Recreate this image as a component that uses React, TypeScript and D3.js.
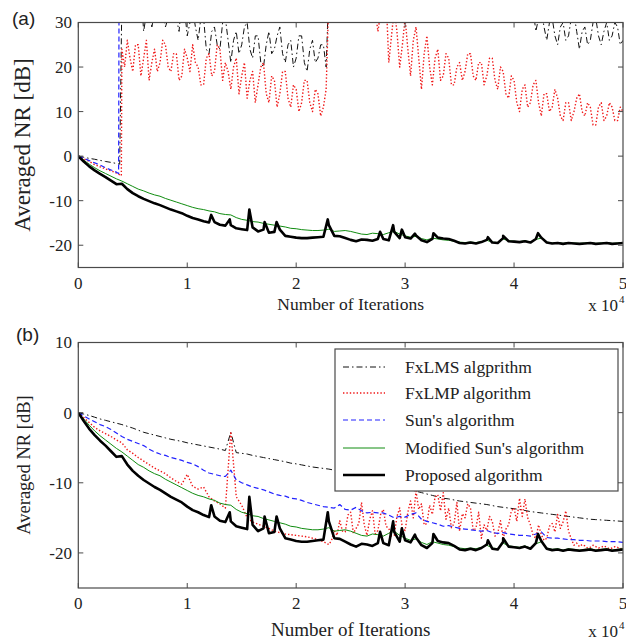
import React from "react";
import * as d3 from "d3";

// ---------- DATA ----------
const iterations = d3.range(0, 50001, 500); // 101 samples
const lateIterations = d3.range(4000, 50001, 250); // 185 samples (panel a, after divergence)
const bEarlyIterations = d3.range(0, 22501, 500); // 46 samples
const bLateIterations = d3.range(23000, 50001, 250); // 109 samples
const xTickValues = [0, 1, 2, 3, 4, 5];
const topYTicks = [-20, -10, 0, 10, 20, 30];
const bottomYTicks = [-20, -10, 0, 10];
const legendLabels = [
  "FxLMS algprithm",
  "FxLMP algorithm",
  "Sun's algorithm",
  "Modified Sun's algorithm",
  "Proposed algorithm",
];

// Proposed algorithm (same in both panels)
const proposed = [
  0, -1.2, -2.3, -3.2, -4.0, -4.7, -5.5, -6.3, -6.2, -7.4,
  -8.3, -9.0, -9.6, -10.1, -10.6, -11.0, -11.5, -12.0, -12.4, -12.8,
  -13.4, -13.9, -14.2, -14.6, -14.9, -14.8, -15.4, -15.6, -15.5, -16.2,
  -16.4, -16.6, -16.0, -16.9, -16.5, -17.2, -17.0, -16.5, -17.9, -18.1,
  -18.3, -18.4, -18.4, -18.3, -18.2, -18.1, -15.5, -17.9, -18.0, -18.4,
  -18.8, -19.1, -18.7, -18.8, -19.0, -18.6, -18.6, -18.9, -17.0, -18.4,
  -18.2, -18.5, -17.8, -18.9, -19.3, -18.6, -18.3, -18.5, -18.6, -19.0,
  -19.5, -19.6, -19.4, -19.6, -19.3, -18.8, -19.4, -19.5, -18.4, -19.1,
  -19.2, -19.3, -19.1, -19.4, -18.6, -18.3, -19.4, -19.6, -19.5, -19.7,
  -19.5, -19.6, -19.7, -19.6, -19.5, -19.7, -19.6, -19.5, -19.7, -19.6,
  -19.5,
];
const proposedPeaks: [number, number][] = [
  [12200, -13.2], [13900, -14.2], [15700, -12.0], [17100, -14.8],
  [18200, -14.8], [22900, -14.2], [27700, -17.0], [28900, -15.5],
  [29700, -16.5], [30900, -17.4], [32600, -17.3], [37600, -18.2],
  [39000, -17.9], [42200, -17.3],
];

// Modified Sun's algorithm (same in both panels)
const modifiedSun = [
  0, -0.9, -1.8, -2.6, -3.3, -3.9, -4.5, -5.1, -5.6, -6.2,
  -6.8, -7.4, -7.8, -8.3, -8.7, -9.0, -9.5, -9.9, -10.3, -10.7,
  -11.1, -11.5, -11.8, -12.0, -12.3, -12.5, -12.9, -13.1, -13.2, -13.8,
  -14.2, -14.4, -14.7, -14.8, -15.1, -15.3, -15.5, -15.7, -15.9, -16.2,
  -16.3, -16.5, -16.6, -16.7, -16.7, -16.6, -16.4, -16.9, -16.8, -16.7,
  -16.9, -17.2, -17.5, -17.6, -17.3, -17.4, -17.6, -17.2, -16.9, -17.5,
  -17.9, -18.2, -18.0, -18.5, -18.8, -18.4, -18.6, -18.8, -18.9, -19.1,
  -19.3, -19.4, -19.3, -19.4, -19.2, -18.9, -19.3, -19.4, -18.6, -19.0,
  -19.1, -19.2, -19.0, -19.3, -18.7, -18.4, -19.3, -19.5, -19.4, -19.6,
  -19.4, -19.5, -19.6, -19.5, -19.4, -19.6, -19.5, -19.4, -19.6, -19.5,
  -19.4,
];

// Panel (b): Sun's algorithm
const sunB = [
  0, -0.45, -0.9, -1.3, -1.7, -2.0, -2.4, -2.9, -3.4, -3.8,
  -4.1, -4.4, -4.7, -5.2, -5.6, -5.9, -6.1, -6.4, -6.6, -6.8,
  -7.1, -7.3, -7.7, -8.2, -8.6, -8.8, -9.0, -9.1, -8.2, -9.6,
  -10.0, -10.3, -10.6, -10.8, -11.0, -11.3, -11.6, -11.8, -11.9, -12.2,
  -12.3, -12.5, -12.8, -13.0, -13.2, -13.4, -13.5, -13.6, -13.1, -13.8,
  -13.9, -13.5, -14.0, -14.3, -14.2, -14.3, -14.3, -14.6, -15.0, -14.8,
  -14.9, -14.5, -14.3, -15.2, -15.5, -15.7, -15.9, -16.2, -16.1, -16.3,
  -16.5, -16.6, -16.7, -16.8, -16.9, -16.8, -17.1, -17.2, -17.1, -17.3,
  -17.4, -17.5, -17.5, -17.6, -17.3, -17.0, -17.8, -17.9, -17.9, -18.0,
  -18.1, -18.1, -18.2, -18.2, -18.3, -18.3, -18.3, -18.4, -18.4, -18.4,
  -18.5,
];

// Panel (b): FxLMS algorithm
const fxlmsB = [
  0, -0.2, -0.4, -0.65, -0.9, -1.1, -1.3, -1.5, -1.7, -1.95,
  -2.2, -2.5, -2.8, -3.0, -3.2, -3.4, -3.6, -3.8, -3.95, -4.1,
  -4.3, -4.45, -4.6, -4.75, -4.9, -5.05, -5.2, -5.4, -2.8, -5.7,
  -5.8, -5.9, -6.1, -6.25, -6.4, -6.55, -6.7, -6.85, -7.0, -7.2,
  -7.3, -7.45, -7.6, -7.75, -7.85, -7.95, -8.05, -8.2, -8.4, -8.6,
  -8.8, -9.0, -9.2, -9.4, -9.6, -9.8, -10.0, -10.2, -10.4, -10.6,
  -10.8, -11.0, -11.2, -11.4, -11.6, -11.8, -12.0, -12.2, -12.3, -12.45,
  -12.6, -12.7, -12.8, -12.9, -13.0, -13.1, -13.25, -13.4, -13.5, -13.6,
  -13.7, -13.8, -13.95, -14.1, -14.2, -14.3, -14.4, -14.5, -14.6, -14.7,
  -14.8, -14.9, -15.0, -15.1, -15.2, -15.25, -15.3, -15.35, -15.4, -15.45,
  -15.5,
];

// Panel (b): FxLMP algorithm (0..22500 every 500, then 23000..50000 every 250)
const fxlmpBEarly = [
  0, -0.7, -1.4, -2.1, -2.6, -3.0, -3.4, -3.9, -4.3, -5.3,
  -5.8, -6.4, -6.9, -7.4, -7.9, -8.3, -8.7, -9.3, -9.8, -10.2,
  -8.8, -10.5, -10.9, -10.6, -12.0, -12.6, -13.0, -13.6, -2.7, -12.0,
  -13.2, -15.0, -15.6, -15.9, -16.2, -16.5, -16.9, -17.1, -17.3, -17.4,
  -17.5, -17.6, -17.7, -17.9, -18.1, -18.4,
];
const fxlmpBLate = [
  -18.8, -18.2, -16.8, -17.5, -15.4, -16.9, -17.0, -14.6, -14.2, -17.2,
  -16.5, -15.8, -12.8, -16.0, -17.5, -15.2, -14.0, -17.3, -16.8, -14.5,
  -13.8, -16.2, -16.5, -17.6, -17.5, -14.8, -13.6, -16.5, -16.8, -14.2,
  -12.6, -15.0, -11.2, -13.8, -13.0, -16.0, -15.8, -13.2, -14.5, -12.0,
  -11.7, -14.0, -11.4, -15.2, -13.6, -16.4, -15.8, -12.8, -16.9, -14.4,
  -15.0, -13.0, -13.6, -16.8, -16.5, -14.2, -17.9, -16.0, -16.8, -14.8,
  -15.5, -17.6, -17.2, -15.4, -17.9, -16.6, -16.0, -14.0, -13.6, -15.5,
  -12.2, -14.8, -12.3, -15.0, -16.0, -17.5, -17.9, -16.0, -17.4, -18.2,
  -17.9, -16.2, -15.8, -17.0, -14.5, -16.5, -15.6, -14.0, -16.9, -18.0,
  -18.9, -18.6, -19.1, -18.8, -19.0, -19.3, -19.2, -18.9, -19.1, -19.3,
  -19.2, -19.0, -19.2, -19.4, -19.3, -19.1, -19.2, -19.4, -19.3,
];

// Panel (a): diverging algorithms
const topFxlmsEarly: [number, number][] = [
  [0, 0], [500, -0.25], [1000, -0.5], [1500, -0.7], [2000, -0.95],
  [2500, -1.2], [3000, -1.4], [3500, -1.65], [3800, -1.8],
];
const topFxlmsLate = [
  35, 31, 31, 34, 36, 30, 33, 37, 28, 32, 35, 29, 32, 36, 36, 33, 29, 31, 34, 36,
  31, 28, 35, 33, 27, 30, 33, 29, 26, 31, 31, 24, 23, 28, 29, 25, 24, 30, 31, 26,
  21, 26, 28, 23, 25, 29, 30, 24, 22, 27, 27, 21, 20, 25, 28, 23, 24, 27, 29, 23,
  21, 25, 26, 20, 22, 27, 27, 21, 19, 24, 26, 21, 22, 25, 25, 20, 38, 36, 36, 40,
  40, 37, 35, 39, 38, 36, 42, 38, 37, 35, 34, 38, 39, 36, 36, 40, 41, 37, 35, 39,
  38, 35, 40, 37, 36, 39, 39, 36, 37, 40, 41, 37, 35, 38, 38, 35, 36, 39, 40, 37,
  37, 34, 39, 36, 36, 38, 38, 35, 35, 37, 37, 34, 33, 36, 36, 33, 34, 37, 37, 34,
  35, 32, 36, 34, 34, 37, 35, 32, 33, 36, 36, 33, 28, 31, 33, 29, 26, 30, 31, 27,
  25, 29, 30, 26, 27, 31, 32, 28, 24, 28, 29, 25, 26, 30, 31, 27, 25, 28, 30, 26,
  27, 30, 29, 25, 26,
];
const topFxlmpEarly: [number, number][] = [
  [0, 0], [500, -0.6], [1000, -1.2], [1500, -1.9], [2000, -2.4],
  [2500, -2.9], [3000, -3.3], [3500, -3.8], [3950, -4.4],
];
const topFxlmpLate = [
  24, 20, 26, 22, 19, 25, 25, 18, 22, 26, 17, 21, 24, 19, 21, 26, 25, 20, 19, 23,
  23, 17, 18, 24, 22, 19, 25, 21, 20, 16, 16, 22, 23, 18, 19, 25, 24, 17, 21, 19,
  15, 20, 22, 14, 18, 21, 13, 17, 19, 12, 16, 20, 21, 14, 12, 18, 17, 11, 14, 19,
  19, 13, 11, 16, 15, 10, 12, 17, 17, 12, 10, 15, 14, 9, 11, 15, 36, 32, 34, 38,
  38, 34, 33, 37, 36, 33, 35, 38, 37, 34, 33, 36, 35, 33, 28, 32, 34, 36, 21, 27,
  33, 28, 20, 25, 31, 24, 18, 26, 29, 22, 15, 23, 27, 20, 16, 22, 24, 17, 18, 23,
  22, 16, 16, 20, 21, 17, 19, 23, 23, 18, 17, 21, 21, 16, 18, 22, 22, 17, 15, 20,
  19, 14, 13, 18, 17, 12, 10, 15, 16, 11, 12, 16, 17, 12, 9, 14, 14, 10, 11, 15,
  13, 9, 8, 12, 12, 8, 10, 13, 14, 10, 9, 12, 11, 7, 7, 11, 12, 8, 9, 12,
  11, 8, 8, 11, 10,
];
const topSun: [number, number][] = [
  [0, 0], [500, -0.5], [1000, -1.0], [1500, -1.5], [2000, -2.0],
  [2500, -2.6], [3000, -3.1], [3500, -3.6], [3700, -3.9], [3750, 45], [50000, 45],
];

// ---------- LAYOUT ----------
const W = 626;
const H = 641;
const PL = 78.3;
const PR = 623;
const SERIF = "'Liberation Serif', 'Times New Roman', serif";
const SANS = "'Liberation Sans', Arial, sans-serif";
const AXIS = "#4a4a4a";

const styles = {
  fxlms: { stroke: "#111", width: 1, dash: "6 3 1.5 3" },
  fxlmp: { stroke: "#f01818", width: 1.4, dash: "1.4 2" },
  sun: { stroke: "#2222ff", width: 1.2, dash: "5 3" },
  mod: { stroke: "#108c10", width: 1, dash: undefined as string | undefined },
  prop: { stroke: "#000", width: 2.6, dash: undefined as string | undefined },
};

const x = d3.scaleLinear().domain([0, 50000]).range([PL, PR]);

const zipIt = (xs: number[], ys: number[]): [number, number][] =>
  xs.map((v, i) => [v, ys[i]] as [number, number]);

const proposedPts = zipIt(iterations, proposed)
  .concat(proposedPeaks)
  .sort((a, b) => a[0] - b[0]);
const modifiedPts = zipIt(iterations, modifiedSun);

type Series = { pts: [number, number][]; style: { stroke: string; width: number; dash?: string } };

function Panel({
  id, top, bottom, yDomain, yTicks, series, label, titleSize, xTitleBaseline, tickBaseline, yLabelSize, yLabelY, labelY, labelX,
}: {
  id: string; top: number; bottom: number; yDomain: [number, number]; yTicks: number[]; series: Series[];
  label: string; titleSize: number; xTitleBaseline: number; tickBaseline: number; yLabelSize: number; yLabelY: number; labelY: number; labelX: number;
}) {
  const y = d3.scaleLinear().domain(yDomain).range([bottom, top]);
  const line = d3.line<[number, number]>().x((d) => x(d[0])).y((d) => y(d[1]));
  const tl = 5;
  return (
    <g>
      <defs>
        <clipPath id={id}>
          <rect x={PL} y={top} width={PR - PL} height={bottom - top} />
        </clipPath>
      </defs>
      <g clipPath={`url(#${id})`}>
        {series.map((s, i) => (
          <path
            key={i}
            d={line(s.pts) || ""}
            fill="none"
            stroke={s.style.stroke}
            strokeWidth={s.style.width}
            strokeDasharray={s.style.dash}
            strokeLinejoin="round"
          />
        ))}
      </g>
      <rect x={PL} y={top} width={PR - PL} height={bottom - top} fill="none" stroke={AXIS} strokeWidth={1.2} />
      {xTickValues.map((t) => (
        <g key={"x" + t}>
          <line x1={x(t * 1e4)} x2={x(t * 1e4)} y1={bottom} y2={bottom - tl} stroke={AXIS} />
          <line x1={x(t * 1e4)} x2={x(t * 1e4)} y1={top} y2={top + tl} stroke={AXIS} />
          <text x={x(t * 1e4)} y={tickBaseline} textAnchor="middle" fontFamily={SERIF} fontSize={17} fill="#222">
            {t}
          </text>
        </g>
      ))}
      {yTicks.map((t) => (
        <g key={"y" + t}>
          <line x1={PL} x2={PL + tl} y1={y(t)} y2={y(t)} stroke={AXIS} />
          <line x1={PR} x2={PR - tl} y1={y(t)} y2={y(t)} stroke={AXIS} />
          <text x={72} y={y(t)} dy="0.35em" textAnchor="end" fontFamily={SERIF} fontSize={17} fill="#222">
            {t}
          </text>
        </g>
      ))}
      <text x={(PL + PR) / 2} y={xTitleBaseline} textAnchor="middle" fontFamily={SERIF} fontSize={titleSize} fill="#222">
        Number of Iterations
      </text>
      <text x={618} y={xTitleBaseline + 1} textAnchor="end" fontFamily={SERIF} fontSize={17} fill="#222">
        x 10
      </text>
      <text x={619} y={xTitleBaseline - 7} fontFamily={SERIF} fontSize={11} fill="#222">
        4
      </text>
      <text
        transform={`translate(30,${yLabelY}) rotate(-90)`}
        textAnchor="middle"
        fontFamily={SERIF}
        fontSize={yLabelSize}
        fill="#222"
      >
        Averaged NR [dB]
      </text>
      <text x={labelX} y={labelY} fontFamily={SANS} fontSize={19} fill="#222">
        {label}
      </text>
    </g>
  );
}

function Legend() {
  const x0 = 335, y0 = 349, x1 = 618, y1 = 491;
  const rows = [367, 393, 420, 448, 475];
  const st = [styles.fxlms, styles.fxlmp, styles.sun, styles.mod, styles.prop];
  return (
    <g>
      <rect x={x0} y={y0} width={x1 - x0} height={y1 - y0} fill="#fff" stroke={AXIS} strokeWidth={1.2} />
      {legendLabels.map((lab, i) => (
        <g key={lab}>
          <line x1={343} x2={385} y1={rows[i]} y2={rows[i]} stroke={st[i].stroke} strokeWidth={st[i].width} strokeDasharray={st[i].dash} />
          <text x={405} y={rows[i] + 6} fontFamily={SERIF} fontSize={17.5} fill="#222">
            {lab}
          </text>
        </g>
      ))}
    </g>
  );
}

export default function App() {
  const topSeries: Series[] = [
    { pts: topFxlmsEarly.concat(zipIt(lateIterations, topFxlmsLate)), style: styles.fxlms },
    { pts: topFxlmpEarly.concat(zipIt(lateIterations, topFxlmpLate)), style: styles.fxlmp },
    { pts: topSun, style: styles.sun },
    { pts: modifiedPts, style: styles.mod },
    { pts: proposedPts, style: styles.prop },
  ];
  const bottomSeries: Series[] = [
    { pts: zipIt(iterations, fxlmsB), style: styles.fxlms },
    { pts: zipIt(bEarlyIterations, fxlmpBEarly).concat(zipIt(bLateIterations, fxlmpBLate)), style: styles.fxlmp },
    { pts: zipIt(iterations, sunB), style: styles.sun },
    { pts: modifiedPts, style: styles.mod },
    { pts: proposedPts, style: styles.prop },
  ];
  return (
    <svg
      width={W}
      height={H}
      viewBox={`0 0 ${W} ${H}`}
      style={{ position: "absolute", left: 0, top: 0, background: "#fff" }}
    >
      <rect x={0} y={0} width={W} height={H} fill="#fff" />
      <Panel
        id="clipA"
        top={22.5}
        bottom={267.5}
        yDomain={[-25, 30]}
        yTicks={topYTicks}
        series={topSeries}
        label="(a)"
        titleSize={17.5}
        xTitleBaseline={310}
        tickBaseline={289}
        yLabelSize={23}
        yLabelY={145}
        labelX={12}
        labelY={25}
      />
      <Panel
        id="clipB"
        top={342.5}
        bottom={588}
        yDomain={[-25, 10]}
        yTicks={bottomYTicks}
        series={bottomSeries}
        label="(b)"
        titleSize={19}
        xTitleBaseline={636}
        tickBaseline={609}
        yLabelSize={18.5}
        yLabelY={465}
        labelX={16}
        labelY={341}
      />
      <Legend />
    </svg>
  );
}
